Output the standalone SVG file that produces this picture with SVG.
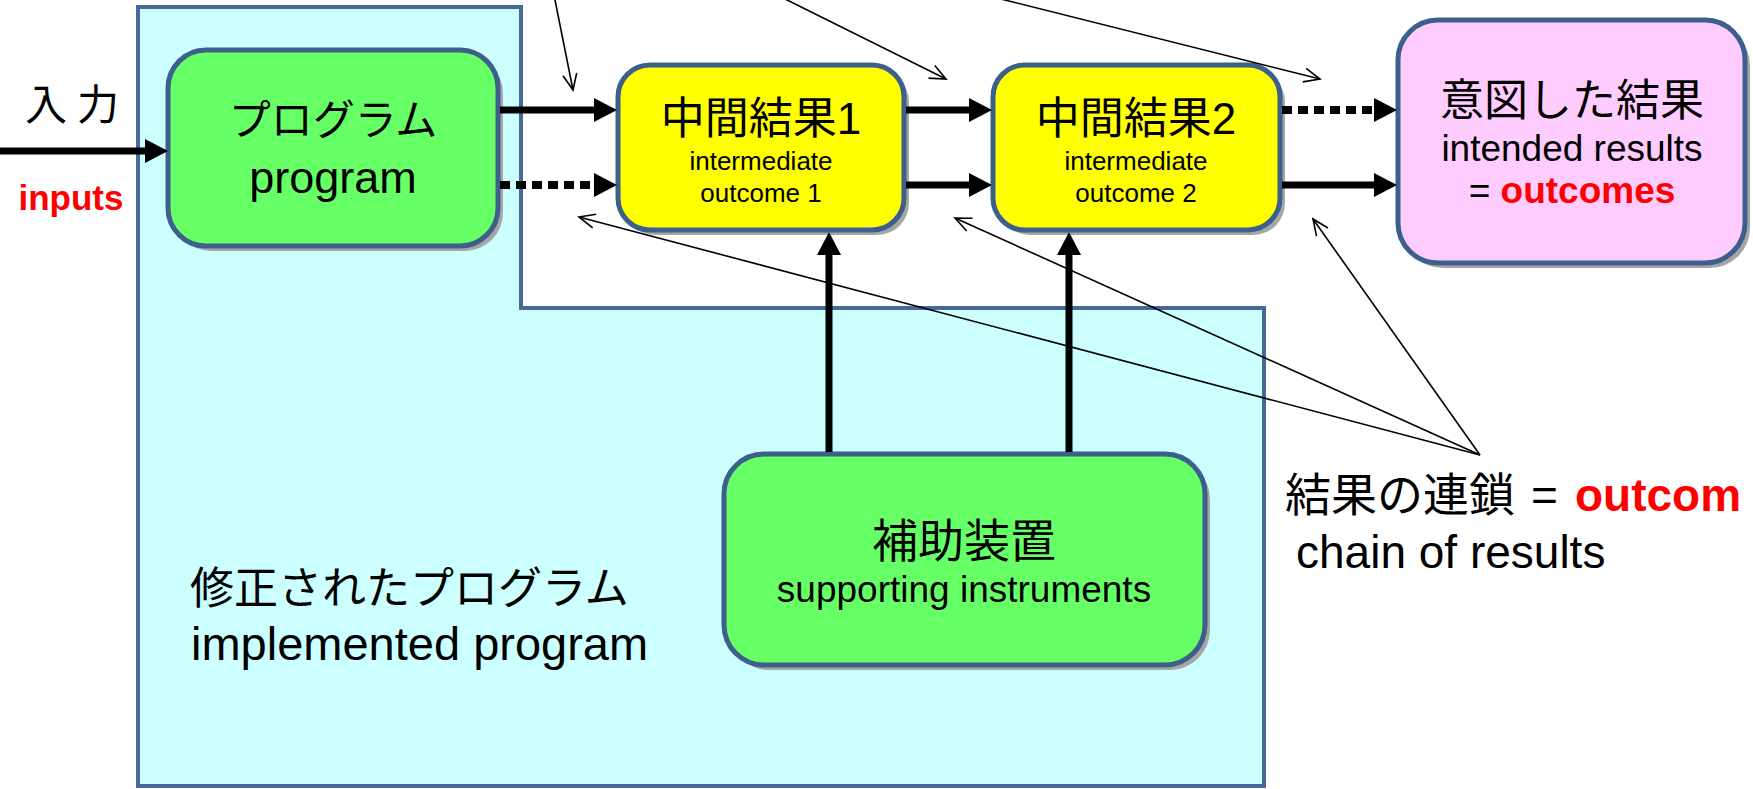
<svg xmlns="http://www.w3.org/2000/svg" width="1753" height="789" viewBox="0 0 1753 789">
<style>
  .t { font-family: "Liberation Sans", "Noto Sans CJK JP", sans-serif; fill: #000; }
  .red { fill: #FF0000; font-weight: bold; }
  .box { stroke: #3D5F8C; stroke-width: 5; }
  .shadow { fill: #A6A6A6; }
  .thick { stroke: #000; stroke-width: 7; fill: none; }
  .dot { stroke-dasharray: 10 6; stroke-width: 8; }
  .thin { stroke: #000; stroke-width: 1.6; fill: none; }
</style>
<defs>
  <marker id="head" markerUnits="userSpaceOnUse" markerWidth="30" markerHeight="30" refX="0" refY="0" orient="auto" overflow="visible">
    <path d="M0,-12 L23,0 L0,12 Z" fill="#000"/>
  </marker>
  <marker id="open" markerUnits="userSpaceOnUse" markerWidth="30" markerHeight="30" refX="0" refY="0" orient="auto" overflow="visible">
    <path d="M-16,-7 L0,0 L-16,7" fill="none" stroke="#000" stroke-width="1.6"/>
  </marker>
</defs>
<rect width="1753" height="789" fill="#FFFFFF"/>

<g id="implemented-program">
  <path d="M138,7 L521,7 L521,308 L1264,308 L1264,786 L138,786 Z" fill="#CCFFFF" stroke="#46699A" stroke-width="4"/>
  <text class="t" x="190" y="604" font-size="44">修正されたプログラム</text>
  <text class="t" x="191" y="660" font-size="47">implemented program</text>
</g>

<g id="program">
  <rect class="shadow" x="173" y="55" width="330" height="196" rx="38"/>
  <rect class="box" x="168" y="50" width="330" height="196" rx="38" fill="#66FF66"/>
  <text class="t" x="333" y="135" font-size="42" text-anchor="middle">プログラム</text>
  <text class="t" x="333" y="193" font-size="45" text-anchor="middle">program</text>
</g>

<g id="intermediate1">
  <rect class="shadow" x="623" y="70" width="286" height="165" rx="32"/>
  <rect class="box" x="618" y="65" width="286" height="165" rx="32" fill="#FFFF00"/>
  <text class="t" x="761" y="134" font-size="44" text-anchor="middle">中間結果1</text>
  <text class="t" x="761" y="170" font-size="26" text-anchor="middle">intermediate</text>
  <text class="t" x="761" y="202" font-size="26" text-anchor="middle">outcome 1</text>
</g>

<g id="intermediate2">
  <rect class="shadow" x="998" y="70" width="287" height="165" rx="32"/>
  <rect class="box" x="993" y="65" width="287" height="165" rx="32" fill="#FFFF00"/>
  <text class="t" x="1136" y="134" font-size="44" text-anchor="middle">中間結果2</text>
  <text class="t" x="1136" y="170" font-size="26" text-anchor="middle">intermediate</text>
  <text class="t" x="1136" y="202" font-size="26" text-anchor="middle">outcome 2</text>
</g>

<g id="intended">
  <rect class="shadow" x="1403" y="25" width="347" height="243" rx="40"/>
  <rect class="box" x="1398" y="20" width="347" height="243" rx="40" fill="#FFCCFF"/>
  <text class="t" x="1572" y="116" font-size="44" text-anchor="middle">意図した結果</text>
  <text class="t" x="1572" y="161" font-size="37" text-anchor="middle">intended results</text>
  <text class="t" x="1572" y="203" font-size="37" text-anchor="middle">= <tspan class="red">outcomes</tspan></text>
</g>

<g id="supporting">
  <rect class="shadow" x="729" y="459" width="481" height="211" rx="40"/>
  <rect class="box" x="724" y="454" width="481" height="211" rx="40" fill="#66FF66"/>
  <text class="t" x="964" y="557" font-size="46" text-anchor="middle">補助装置</text>
  <text class="t" x="964" y="602" font-size="37" text-anchor="middle">supporting instruments</text>
</g>

<g id="labels">
  <text class="t" x="25" y="120" font-size="42" letter-spacing="10">入力</text>
  <text class="t red" x="71" y="210" font-size="35" text-anchor="middle">inputs</text>
  <text class="t" x="1285" y="511" font-size="46">結果の連鎖</text>
  <text class="t" x="1531" y="511" font-size="46">=</text>
  <text class="t red" x="1575" y="511" font-size="46">outcom</text>
  <text class="t" x="1296" y="568" font-size="46">chain of results</text>
</g>

<g id="connectors">
  <line class="thick" x1="0" y1="151" x2="145" y2="151" marker-end="url(#head)"/>
  <line class="thick" x1="500" y1="110" x2="594" y2="110" marker-end="url(#head)"/>
  <line class="thick dot" x1="500" y1="185" x2="594" y2="185" marker-end="url(#head)"/>
  <line class="thick" x1="906" y1="110" x2="969" y2="110" marker-end="url(#head)"/>
  <line class="thick" x1="906" y1="185" x2="969" y2="185" marker-end="url(#head)"/>
  <line class="thick dot" x1="1282" y1="110" x2="1374" y2="110" marker-end="url(#head)"/>
  <line class="thick" x1="1282" y1="185" x2="1374" y2="185" marker-end="url(#head)"/>
  <line class="thick" x1="829" y1="452" x2="829" y2="255" marker-end="url(#head)"/>
  <line class="thick" x1="1069" y1="452" x2="1069" y2="255" marker-end="url(#head)"/>

  <line class="thin" x1="553" y1="-10" x2="573" y2="90" marker-end="url(#open)"/>
  <line class="thin" x1="767" y1="-10" x2="946" y2="79" marker-end="url(#open)"/>
  <line class="thin" x1="965" y1="-10" x2="1320" y2="79" marker-end="url(#open)"/>
  <line class="thin" x1="1480" y1="455" x2="579" y2="217" marker-end="url(#open)"/>
  <line class="thin" x1="1480" y1="455" x2="955" y2="218" marker-end="url(#open)"/>
  <line class="thin" x1="1480" y1="455" x2="1313" y2="219" marker-end="url(#open)"/>
</g>
</svg>
